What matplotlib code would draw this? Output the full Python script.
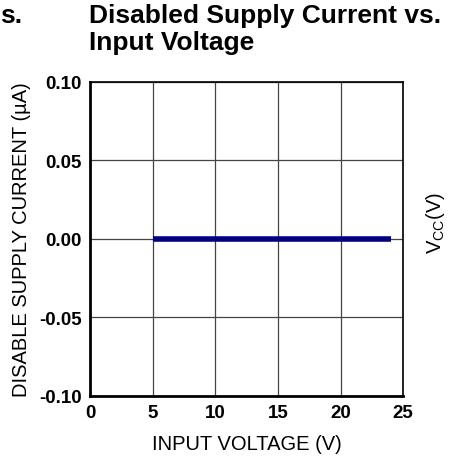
import matplotlib
matplotlib.use("Agg")
import matplotlib.pyplot as plt

# data
input_voltage = [5, 6, 7, 8, 9, 10, 11, 12, 13, 14, 15, 16, 17, 18, 19, 20, 21, 22, 23, 24]
disable_current = [0.0] * len(input_voltage)
x_ticks = [0, 5, 10, 15, 20, 25]
y_ticks = [-0.10, -0.05, 0.00, 0.05, 0.10]
y_tick_labels = ['-0.10', '-0.05', '0.00', '0.05', '0.10']

plt.rcParams['font.family'] = ['Liberation Sans', 'DejaVu Sans']

fig = plt.figure(figsize=(4.53, 4.60), dpi=100)
ax = fig.add_axes([0.199, 0.137, 0.691, 0.683])

ax.plot(input_voltage, disable_current, color='#000080', linewidth=4.0,
        solid_capstyle='butt', zorder=3)

ax.set_xlim(0, 25)
ax.set_ylim(-0.10, 0.10)
ax.set_xticks(x_ticks)
ax.set_yticks(y_ticks)
ax.set_yticklabels(y_tick_labels)
ax.tick_params(length=0, labelsize=13.5, pad=6)
for lbl in ax.get_xticklabels() + ax.get_yticklabels():
    lbl.set_fontweight('bold')
ax.grid(True, color='#444444', linewidth=0.9)

ax.spines['left'].set_linewidth(2.0)
ax.spines['bottom'].set_linewidth(2.0)
ax.spines['top'].set_linewidth(1.2)
ax.spines['right'].set_linewidth(1.2)

ax.set_xlabel('INPUT VOLTAGE (V)', fontsize=14.5, labelpad=9)
ax.set_ylabel('DISABLE SUPPLY CURRENT (µA)', fontsize=14.5, labelpad=6)

fig.text(0.196, 0.992, 'Disabled Supply Current vs.\nInput Voltage', fontsize=19,
         fontweight='bold', ha='left', va='top', linespacing=1.2)
fig.text(0.0, 0.992, 's.', fontsize=19, fontweight='bold', ha='left', va='top')
fig.text(0.962, 0.515, r'V$_{\mathregular{CC}}$(V)', fontsize=14.5, rotation=90,
         ha='center', va='center')

fig.savefig('out.png', dpi=100)
